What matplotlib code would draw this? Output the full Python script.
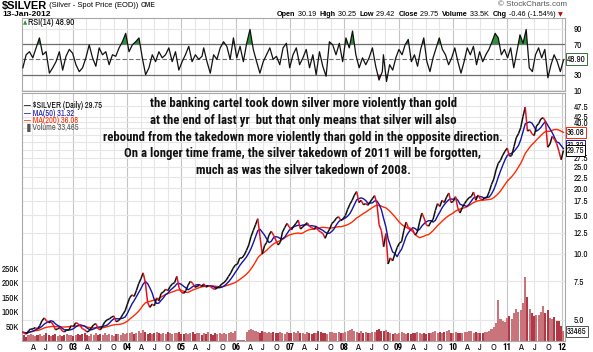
import numpy as np
import pandas as pd
import matplotlib
matplotlib.use('Agg')
import matplotlib.pyplot as plt
from matplotlib.collections import LineCollection
from matplotlib.ticker import FixedLocator, NullLocator, NullFormatter
import logging
logging.getLogger('matplotlib.font_manager').setLevel(logging.ERROR)

# Data (semi-monthly closes, Jan 2002 .. Jan 2012) ====
p2002 = [4.40, 4.35, 4.30, 4.45, 4.55, 4.55, 4.60, 4.55, 4.70, 4.95, 5.10, 4.95,
         4.85, 4.90, 4.75, 4.50, 4.55, 4.60, 4.45, 4.40, 4.50, 4.50, 4.70, 4.65]
p2003 = [4.85, 4.80, 4.70, 4.55, 4.50, 4.40, 4.45, 4.60, 4.75, 4.80, 4.55, 4.50,
         4.70, 4.90, 5.00, 5.05, 5.15, 5.20, 4.90, 4.95, 5.10, 5.30, 5.50, 5.90]
p2004 = [6.30, 6.50, 6.40, 6.80, 7.30, 7.70, 8.20, 7.40, 6.00, 5.70, 5.90, 5.80,
         6.30, 6.10, 6.60, 6.70, 6.90, 6.80, 7.10, 7.30, 7.40, 7.90, 7.00, 6.70]
p2005 = [6.60, 6.80, 7.20, 7.50, 7.35, 7.05, 7.10, 7.20, 7.10, 7.30, 7.05, 7.15,
         7.10, 6.95, 6.90, 7.00, 7.10, 7.30, 7.40, 7.60, 7.90, 8.20, 8.60, 8.90]
p2006 = [9.00, 9.60, 9.60, 9.90, 10.4, 11.0, 12.0, 12.8, 13.6, 14.5, 12.0, 10.0,
         10.9, 11.3, 12.2, 12.7, 12.2, 11.6, 11.0, 11.3, 12.6, 13.2, 13.8, 13.3]
p2007 = [12.9, 13.4, 13.8, 14.3, 13.0, 13.3, 13.6, 13.9, 13.4, 13.2, 13.0, 13.3,
         12.8, 12.6, 12.4, 11.8, 12.5, 13.0, 13.8, 14.1, 14.6, 14.8, 14.2, 14.5]
p2008 = [15.0, 16.0, 16.9, 17.6, 18.6, 19.3, 17.2, 17.6, 16.8, 17.0, 16.7, 17.3,
         17.9, 18.5, 17.0, 13.6, 12.8, 10.8, 12.4, 9.00, 9.60, 9.30, 10.0, 10.7]
p2009 = [11.2, 11.4, 12.8, 14.0, 13.2, 13.1, 12.9, 12.2, 12.6, 14.0, 15.4, 14.6,
         13.6, 13.4, 14.0, 14.4, 15.8, 17.0, 16.5, 17.6, 17.2, 18.2, 19.0, 17.2]
p2010 = [17.4, 18.3, 16.2, 15.4, 16.3, 17.0, 17.6, 18.1, 18.3, 19.2, 17.6, 18.6,
         17.9, 17.7, 18.1, 18.2, 19.3, 20.8, 22.0, 24.2, 26.0, 26.8, 28.3, 29.5]
p2011 = [30.5, 28.0, 28.2, 31.0, 34.0, 35.5, 37.8, 42.5, 47.0, 36.5, 37.0, 35.5,
         34.8, 38.5, 39.5, 41.5, 42.0, 40.5, 30.8, 31.8, 34.5, 33.5, 32.0, 29.5]
p2012 = [27.0, 29.75]

# volume in thousands
v2002 = [18, 22, 15, 20, 24, 19, 17, 21, 25, 18, 22, 26, 20, 17, 19, 23, 18, 21, 16, 20, 24, 19, 22, 18]
v2003 = [21, 25, 19, 23, 28, 20, 18, 24, 22, 26, 19, 23, 21, 27, 20, 24, 22, 18, 25, 23, 20, 26, 24, 29]
v2004 = [26, 30, 24, 28, 33, 27, 38, 31, 25, 29, 23, 27, 30, 26, 24, 28, 25, 31, 27, 23, 29, 26, 32, 24]
v2005 = [25, 29, 23, 27, 31, 24, 26, 28, 22, 27, 25, 30, 24, 21, 26, 23, 28, 25, 29, 24, 27, 31, 26, 33]
v2006 = [3, 2, 2, 4, 31, 36, 40, 38, 33, 30, 29, 34, 32, 28, 30, 27, 32, 29, 26, 31, 28, 24, 30, 27]
v2007 = [26, 30, 28, 33, 27, 29, 25, 31, 27, 24, 29, 26, 35, 31, 27, 29, 25, 30, 32, 28, 26, 31, 27, 29]
v2008 = [31, 35, 38, 40, 34, 30, 28, 33, 27, 31, 26, 29, 32, 30, 36, 40, 35, 33, 38, 31, 28, 25, 27, 24]
v2009 = [26, 30, 28, 25, 27, 24, 26, 29, 31, 28, 25, 27, 24, 28, 26, 30, 33, 29, 31, 27, 30, 34, 36, 29]
v2010 = [27, 31, 29, 26, 28, 32, 30, 34, 33, 29, 31, 27, 28, 26, 30, 32, 34, 40, 48, 60, 140, 75, 70, 65]
v2011 = [80, 85, 75, 95, 110, 100, 105, 130, 220, 150, 110, 95, 85, 90, 88, 100, 120, 95, 105, 80, 75, 82, 70, 68]
v2012 = [52, 33]

# RSI(14) traced in three stretches
rsi_a = [39, 56, 60, 52, 65, 78, 56, 60, 32, 39, 47, 60, 36, 54, 63, 58, 43, 34, 39, 52,
         69, 52, 41, 65, 56, 60, 43, 56, 54, 65, 73, 84, 60, 69, 73, 78, 52, 30, 39, 56,
         47, 60, 52, 56, 65, 47, 60, 36, 47, 56, 67, 47, 56, 50, 54]
rsi_b = [65, 47, 32, 56, 50, 65, 73, 67, 50, 78, 52, 67, 47, 71, 89, 63, 47, 32, 47, 56,
         65, 50, 54, 43, 65, 71, 39, 56, 65, 43, 52, 63, 39, 56, 30, 60, 41, 28, 73, 69,
         56, 71, 47, 78, 65, 87, 56, 39, 52, 43, 52, 65, 41, 23, 34]
rsi_c = [56, 21, 43, 36, 52, 63, 56, 69, 76, 47, 56, 41, 63, 78, 47, 34, 52, 65, 78, 63,
         56, 43, 52, 65, 47, 32, 47, 65, 56, 67, 43, 60, 47, 56, 63, 73, 84, 78, 56, 63,
         52, 65, 39, 60, 82, 71, 89, 39, 34, 56, 65, 52, 63, 26, 43, 56, 47, 34, 48.9]

price_ticks = [5.0, 7.5, 10.0, 12.5, 15.0, 17.5, 20.0, 22.5, 25.0, 27.5, 30.0,
               32.5, 35.0, 37.5, 40.0, 42.5, 47.5]
hidden_ticks = [30.0, 32.5, 35.0, 37.5]   # covered by the value boxes
vol_ticks = [50, 100, 150, 200, 250]
rsi_ticks = [10, 30, 70, 90]

price = np.array(p2002 + p2003 + p2004 + p2005 + p2006 + p2007 + p2008 + p2009
                 + p2010 + p2011 + p2012)
vol = np.array(v2002 + v2003 + v2004 + v2005 + v2006 + v2007 + v2008 + v2009
               + v2010 + v2011 + v2012) * 1000.0
t = np.linspace(2002.06, 2012.035, len(price))
ma50 = pd.Series(price).rolling(5, min_periods=1).mean().values
ma200 = pd.Series(price).rolling(19, min_periods=1).mean().values

rsi = np.array(rsi_a + rsi_b + rsi_c, dtype=float)
t_rsi = np.concatenate([np.linspace(2002.08, 2005.38, len(rsi_a)),
                        np.linspace(2005.41, 2008.70, len(rsi_b)),
                        np.linspace(2008.72, 2012.035, len(rsi_c))])

# figure layout in pixels ====================================================
W, H = 593, 352
fig = plt.figure(figsize=(W / 100, H / 100), dpi=100)
renderer = fig.canvas.get_renderer()
NARROW = ['Liberation Sans Narrow', 'Arial Narrow', 'Archivo Narrow', 'DejaVu Sans']
BOLDN = ['Liberation Sans Narrow', 'Arial Narrow', 'Roboto Condensed', 'Asap Condensed',
         'Liberation Sans', 'DejaVu Sans']
ARIAL = ['Liberation Sans', 'Arial', 'DejaVu Sans']

def px_axes(left, top, right, bottom):
    return fig.add_axes([left / W, 1 - bottom / H, (right - left) / W, (bottom - top) / H])

x0, x1 = 2002.0645, 2012.064
grid_light, grid_dark = '#e6e6e6', '#c4c4c4'

def quarter_grid(ax):
    for yr in range(2002, 2013):
        for q in range(4):
            tq = yr + q / 4
            if x0 < tq < x1:
                ax.axvline(tq, color=grid_dark if q == 0 else grid_light, lw=0.8, zorder=0)

def style_spines(ax):
    for s in ax.spines.values():
        s.set_color('#a8a8a8')
        s.set_linewidth(0.8)

# RSI panel ==================================================================
ar = px_axes(22, 18, 565, 91)
ar.set_xlim(x0, x1)
ar.set_ylim(8.7, 104)
quarter_grid(ar)
for lv in (10, 90):
    ar.axhline(lv, color=grid_light, lw=0.8, zorder=0)
ar.axhline(70, color='#6e6e6e', lw=0.9, zorder=1)
ar.axhline(30, color='#6e6e6e', lw=0.9, zorder=1)
ar.axhline(50, color='#6e6e6e', lw=0.8, ls=(0, (4, 2)), zorder=1)
ar.fill_between(t_rsi, rsi, 70, where=rsi > 70, interpolate=True, color='#2f8f3a', lw=0, zorder=2)
ar.fill_between(t_rsi, rsi, 30, where=rsi < 30, interpolate=True, color='#8b1a1a', lw=0, zorder=2)
ar.plot(t_rsi, rsi, color='#111111', lw=0.9, zorder=3)
ar.yaxis.tick_right()
ar.yaxis.set_major_locator(FixedLocator(rsi_ticks))
ar.set_yticklabels([str(v) for v in rsi_ticks], fontsize=6.5, family=NARROW)
ar.tick_params(axis='y', length=0, pad=6)
ar.xaxis.set_major_locator(NullLocator())
style_spines(ar)
fig.text(567 / W, 1 - 59 / H, '48.90', fontsize=6.5, family=NARROW, va='center', ha='left',
         bbox=dict(boxstyle='square,pad=0.12', fc='white', ec='#3c6e3c', lw=0.7))
fig.text(23 / W, 1 - 22.5 / H, '\u25b2', fontsize=4, color='#2f8f3a', va='center', ha='left',
         family='DejaVu Sans')
fig.text(28 / W, 1 - 22.5 / H, 'RSI(14) 48.90', fontsize=6.5, family=NARROW, va='center', ha='left')

# volume (behind) and price (front) ==========================================
av = px_axes(22, 93, 565, 341)
av.set_xlim(x0, x1)
av.set_ylim(0, 850000)
quarter_grid(av)
for pt in price_ticks:
    yfrac = (np.log(pt) - np.log(4.0)) / (np.log(54.5) - np.log(4.0))
    av.axhline(yfrac * 850000, color=grid_light, lw=0.8, zorder=0)
step = t[1] - t[0]
down = np.r_[False, price[1:] < price[:-1]]
vcol = np.where(down, '#b23845', '#c9737b')
av.bar(t, vol, width=step * 0.9, color=vcol, lw=0, zorder=2)
av.yaxis.set_major_locator(FixedLocator([v * 1000 for v in vol_ticks]))
av.set_yticklabels(['%dK' % v for v in vol_ticks], fontsize=6.5, family=NARROW)
av.tick_params(axis='y', length=0, pad=2)
xt = [yr + q / 4 for yr in range(2002, 2013) for q in range(4) if x0 < yr + q / 4 < x1]
av.xaxis.set_major_locator(FixedLocator(xt))
xlabels = ['%02d' % (int(round(v)) % 100) if abs(v - round(v)) < 1e-6
           else 'AJO'[int(round((v % 1) * 4)) - 1] for v in xt]
av.set_xticklabels(xlabels, fontsize=6.5, family=NARROW)
for lab in av.get_xticklabels():
    if lab.get_text().isdigit():
        lab.set_fontweight('bold')
        lab.set_family(BOLDN)
av.tick_params(axis='x', length=0, pad=1.5)
style_spines(av)

ap = px_axes(22, 93, 565, 341)
ap.patch.set_alpha(0)
ap.set_xlim(x0, x1)
ap.set_yscale('log')
ap.set_ylim(4.0, 54.5)
pts = np.column_stack([t, price])
segs = np.stack([pts[:-1], pts[1:]], axis=1)
seg_col = np.where(price[1:] < price[:-1], '#e3121f', '#101010')
ap.add_collection(LineCollection(segs, colors=seg_col, linewidths=1.1, zorder=4))
ap.plot(t, ma200, color='#ff2a00', lw=1.0, zorder=3)
ap.plot(t, ma50, color='#1414a8', lw=1.0, zorder=3)
ap.yaxis.tick_right()
ap.yaxis.set_major_locator(FixedLocator(price_ticks))
ap.yaxis.set_minor_locator(NullLocator())
ap.yaxis.set_minor_formatter(NullFormatter())
ap.set_yticklabels(['' if v in hidden_ticks else '%.1f' % v for v in price_ticks],
                   fontsize=6.5, family=NARROW)
ap.tick_params(axis='y', length=0, pad=6)
ap.xaxis.set_major_locator(NullLocator())
for s in ap.spines.values():
    s.set_visible(False)

def val_box(yval, txt, ec, axis=ap):
    axis.annotate(txt, xy=(1.0, yval), xycoords=('axes fraction', 'data'),
                  xytext=(1.5, 0), textcoords='offset points', fontsize=6.2, family=NARROW,
                  va='center', ha='left', annotation_clip=False,
                  bbox=dict(boxstyle='square,pad=0.1', fc='white', ec=ec, lw=0.7))

val_box(36.08, '36.08', '#ff2a00')
val_box(31.32, '31.32', '#1414a8')
val_box(29.75, '29.75', '#000000')
val_box(33465, '33465', '#555555', axis=av)

# legend in price panel
leg = [('\u2014 $SILVER (Daily) 29.75', '#000000', 105.5),
       ('\u2014 MA(50) 31.32', '#1414a8', 113),
       ('\u2014 MA(200) 36.08', '#ff2a00', 120.5),
       ('\u2590 Volume 33,465', '#555555', 128)]
for txt, c, yy in leg:
    fig.text(24 / W, 1 - yy / H, txt, fontsize=6, family=NARROW, color=c, va='center', ha='left')

# annotation text, sized so the longest line spans ~400 px like the original
note = ['the banking cartel took down silver more violently than gold',
        'at the end of last yr  but that only means that silver will also',
        'rebound from the takedown more violently than gold in the opposite direction.',
        'On a longer time frame, the silver takedown of 2011 will be forgotten,',
        'much as was the silver takedown of 2008.']
probe = fig.text(0, 0, note[2], fontsize=10, fontweight='bold', family=BOLDN)
note_size = 10 * 400 / probe.get_window_extent(renderer=renderer).width
probe.remove()
for i, line in enumerate(note):
    fig.text(303 / W, 1 - (104 + 16.5 * i) / H, line, fontsize=note_size, fontweight='bold',
             family=BOLDN, va='center', ha='center', color='#111111')

# header =====================================================================
def seq_text(xs, ys, pieces, size, family):
    x = xs
    for s, wt, rel, col in pieces:
        tx = fig.text(x / W, 1 - ys / H, s, fontsize=size * rel, fontweight=wt, family=family,
                      color=col, va='center', ha='left')
        x += tx.get_window_extent(renderer=renderer).width
    return x

seq_text(2, 5.5, [('$SILVER', 'bold', 1.0, 'black'),
                  (' (Silver - Spot Price (EOD)) ', 'normal', 0.68, 'black'),
                  ('CME', 'bold', 0.6, '#333333')], 8, ARIAL)
fig.text(2 / W, 1 - 15 / H, '13-Jan-2012', fontsize=6, fontweight='bold', family=ARIAL,
         va='center', ha='left')

quote = [('Open', 'bold', 1, 'black'), (' 30.19  ', 'normal', 1, 'black'),
         ('High', 'bold', 1, 'black'), (' 30.25  ', 'normal', 1, 'black'),
         ('Low', 'bold', 1, 'black'), (' 29.42  ', 'normal', 1, 'black'),
         ('Close', 'bold', 1, 'black'), (' 29.75  ', 'normal', 1, 'black'),
         ('Volume', 'bold', 1, 'black'), (' 33.5K  ', 'normal', 1, 'black'),
         ('Chg', 'bold', 1, 'black'), (' -0.46 (-1.54%) ', 'normal', 1, 'black')]
n_before = len(fig.texts)
xe = seq_text(277, 14.5, quote, 10, ARIAL)
qsize = 10 * (560 - 277) / (xe - 277)
for tx in fig.texts[n_before:]:
    tx.remove()
xe = seq_text(277, 14.5, quote, qsize, ARIAL)
fig.text(xe / W, 1 - 15 / H, '\u25bc', fontsize=4.5, color='#cc0000', va='center', ha='left',
         family='DejaVu Sans')
fig.text(567 / W, 1 - 4.5 / H, '\u00a9 StockCharts.com', fontsize=5.8, family=ARIAL,
         color='#555555', va='center', ha='right')

fig.savefig('out.png', dpi=100)
